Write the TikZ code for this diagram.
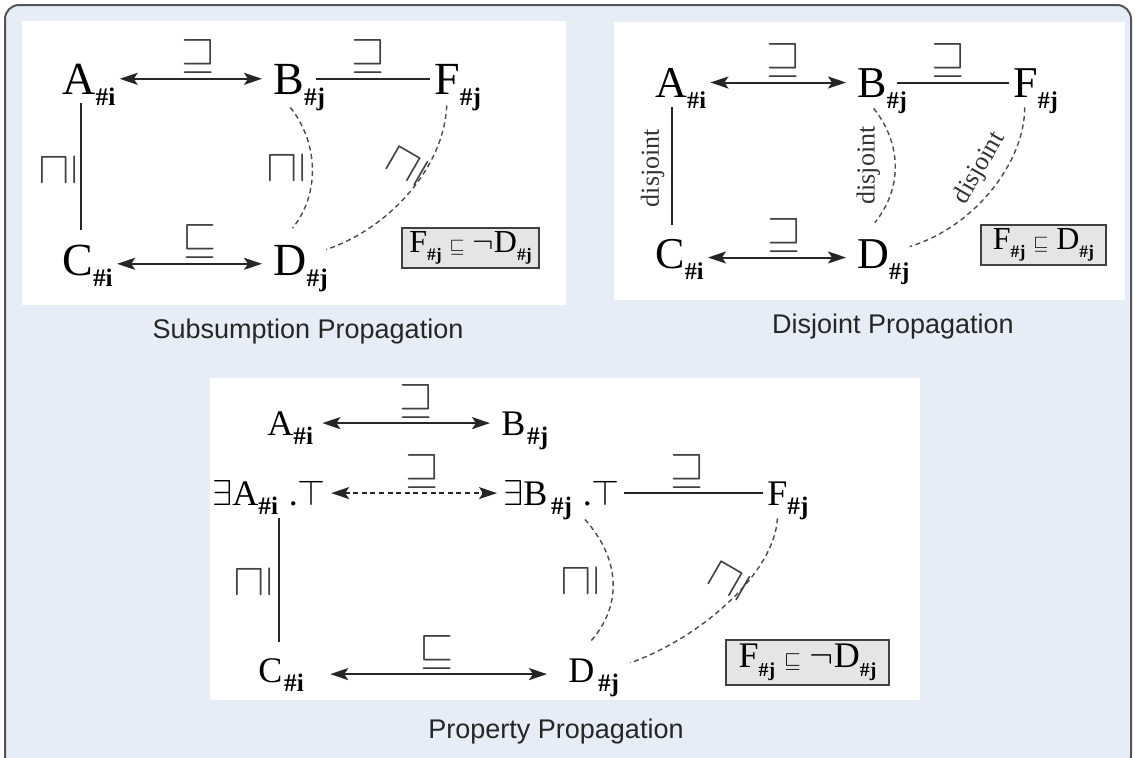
\RequirePackage{fix-cm}
\documentclass[tikz,border=0pt]{standalone}
\usepackage{fontspec}
\setmainfont{Liberation Serif}
\newfontfamily\capfont{Liberation Sans}
\usepackage{graphicx}
\usetikzlibrary{arrows.meta}
\definecolor{PanelBack}{HTML}{E6EDF7}
\definecolor{FrameGray}{HTML}{555555}
\newcommand{\cn}[3][0.55]{#2\raisebox{-0.25em}{\scalebox{#1}{\bfseries\##3}}}

\begin{document}
\begin{tikzpicture}[>={Stealth[length=9pt,width=6pt,inset=2pt]},x=0.5pt,y=-0.5pt,
  term/.style={inner sep=2pt,anchor=base west,text depth=0pt},
  termbig/.style={term,font=\fontsize{23}{23}\selectfont,text height=15.2pt},
  termmid/.style={term,font=\fontsize{22}{22}\selectfont,text height=14.5pt},
  termsmall/.style={term,font=\fontsize{18}{18}\selectfont,text height=11.9pt},
  link/.style={line width=1pt,black!85},
  biarrow/.style={link,<->,shorten >=3.5pt},
  dashcurve/.style={dash pattern=on 2.5pt off 1.8pt,line width=0.7pt,black!70},
  rel/.style={font=\fontsize{22}{22}\selectfont,text=black!75,inner sep=2pt},
  txtlab/.style={font=\fontsize{13}{13}\selectfont,text=black!80,inner sep=1pt},
  relbox/.style={draw=black!75,line width=0.9pt,fill=black!10,inner sep=2pt},
  caption/.style={font=\capfont\fontsize{13.5}{15}\selectfont,text=black!85}]
  \useasboundingbox (0,0) rectangle (1135,757);
  \draw[FrameGray,line width=1pt,fill=PanelBack,rounded corners=7pt] (5,5) rectangle (1131,770);
  \fill[white] (22,21) rectangle (566,305);
  \fill[white] (614,22) rectangle (1125,300);
  \fill[white] (210,378) rectangle (920,700);

  \node[termbig] (a1) at (58,94) {\cn{A}{i}};
  \node[termbig] (b1) at (269,94) {\cn{B}{j}};
  \node[termbig] (f1) at (430,94) {\cn{F}{j}};
  \node[termbig] (c1) at (58,275) {\cn{C}{i}};
  \node[termbig] (d1) at (269,275) {\cn{D}{j}};
  \draw[biarrow] (a1) -- (b1) node[rel,pos=.53,above] {$\sqsupseteq$};
  \draw[link] ([xshift=-7pt]b1.east) -- (f1.west) node[rel,pos=.46,above] {$\sqsupseteq$};
  \draw[link,shorten <=2.5pt,shorten >=5pt] ([xshift=-4pt]a1.south) -- ([xshift=-4pt]a1.south |- c1.north)
    node[rel,midway,xshift=-11pt,rotate=90] {$\sqsupseteq$};
  \draw[biarrow] ([yshift=-2pt]c1.east) -- ([yshift=-2pt]d1.west) node[rel,pos=.54,above] {$\sqsubseteq$};
  \draw[dashcurve] ([shift={(-4.5pt,-4.5pt)}]b1.south) .. controls +(28,35) and +(28,-35) .. ([shift={(-4pt,6pt)}]d1.north)
    node[rel,pos=.5,xshift=-13pt,rotate=90] {$\sqsupseteq$};
  \draw[dashcurve] ([shift={(-5.5pt,-3.5pt)}]f1.south) .. controls +(-3,65) and +(60,-20) .. ([shift={(-3pt,-4.7pt)}]d1.north east)
    node[rel,pos=.35,xshift=-9pt,yshift=2.5pt,rotate=60] {$\sqsupseteq$};
  \node[relbox,minimum width=68.5pt,minimum height=20pt,font=\fontsize{16}{16}\selectfont] (box1) at (470.5,248)
    {\cn{F}{j}\ \scalebox{0.6}{$\sqsubseteq$}\ $\neg$\cn{D}{j}};
  \node[caption] (cap1) at (308,332) {Subsumption Propagation};

  \node[termmid] (a2) at (651,97) {\cn{A}{i}};
  \node[termmid] (b2) at (853,97) {\cn{B}{j}};
  \node[termmid] (f2) at (1009,97) {\cn{F}{j}};
  \node[termmid] (c2) at (651,268) {\cn{C}{i}};
  \node[termmid] (d2) at (853,268) {\cn{D}{j}};
  \draw[biarrow] (a2) -- (b2) node[rel,pos=.51,above] {$\sqsupseteq$};
  \draw[link] ([xshift=-7pt]b2.east) -- (f2.west) node[rel,pos=.46,above] {$\sqsupseteq$};
  \draw[link,shorten <=3pt,shorten >=5pt] ([xshift=-4.5pt]a2.south) -- ([xshift=-4.5pt]a2.south |- c2.north)
    node[txtlab,midway,xshift=-9.5pt,rotate=90] {disjoint};
  \draw[biarrow] ([yshift=-2pt]c2.east) -- ([yshift=-2pt]d2.west) node[rel,pos=.53,above] {$\sqsupseteq$};
  \draw[dashcurve] ([shift={(-4.25pt,-3.5pt)}]b2.south) .. controls +(28,35) and +(28,-35) .. ([shift={(-4.25pt,6pt)}]d2.north)
    node[txtlab,pos=.5,xshift=-13.5pt,rotate=90] {disjoint};
  \draw[dashcurve] ([shift={(-5.5pt,-3pt)}]f2.south) .. controls +(0,55) and +(65,-20) .. ([shift={(-2pt,-6pt)}]d2.north east)
    node[txtlab,pos=.35,xshift=-14pt,yshift=-1pt,rotate=60] {disjoint};
  \node[relbox,minimum width=62.5pt,minimum height=20pt,font=\fontsize{16}{16}\selectfont] (box2) at (1043.5,245)
    {\cn{F}{j}\ \scalebox{0.6}{$\sqsubseteq$}\ \cn{D}{j}};
  \node[caption] (cap2) at (893,327) {Disjoint Propagation};

  \node[termsmall] (a3) at (263,435) {\cn[0.7]{A}{i}};
  \node[termsmall] (b3) at (497,435) {\cn[0.7]{B\kern0.05em}{j}};
  \node[termsmall] (ea3) at (208,505) {$\exists$\cn[0.7]{A}{i}\kern0.3em.$\top$};
  \node[termsmall] (eb3) at (499,505) {$\exists$\cn[0.7]{B\kern0.1em}{j}\kern0.3em.$\top$};
  \node[termsmall] (f3) at (763,505) {\cn[0.7]{F}{j}};
  \node[termsmall] (c3) at (254,682) {\cn[0.7]{C\kern0.05em}{i}};
  \node[termsmall] (d3) at (564,682) {\cn[0.7]{D\kern0.1em}{j}};
  \draw[biarrow,shorten <=2.5pt] (a3) -- (b3) node[rel,pos=.55,above] {$\sqsupseteq$};
  \draw[biarrow,line width=0.8pt,dash pattern=on 2.5pt off 1.8pt,shorten <=0.5pt,shorten >=1pt] (ea3) -- (eb3)
    node[rel,pos=.55,above] {$\sqsupseteq$};
  \draw[link] (eb3) -- (f3) node[rel,pos=.46,above] {$\sqsupseteq$};
  \draw[link,shorten <=4.5pt,shorten >=6pt] ([xshift=4.7pt]ea3.south) -- ([xshift=4.7pt]ea3.south |- c3.north)
    node[rel,midway,xshift=-12.5pt,rotate=90] {$\sqsupseteq$};
  \draw[biarrow,shorten <=11pt,shorten >=8.5pt] ([yshift=-2pt]c3.east) -- ([yshift=-2pt]d3.west)
    node[rel,midway,above] {$\sqsubseteq$};
  \draw[dashcurve] ([shift={(11.65pt,-5pt)}]eb3.south) .. controls +(34,38) and +(34,-38) .. ([shift={(-1.75pt,6pt)}]d3.north)
    node[rel,pos=.5,xshift=-16.5pt,rotate=90] {$\sqsupseteq$};
  \draw[dashcurve] ([shift={(-5.25pt,-4.5pt)}]f3.south) .. controls +(-3,55) and +(70,-25) .. ([shift={(3.5pt,-4.5pt)}]d3.north east)
    node[rel,pos=.35,xshift=-11pt,yshift=-1.5pt,rotate=60] {$\sqsupseteq$};
  \node[relbox,minimum width=81.5pt,minimum height=20.5pt,font=\fontsize{18}{18}\selectfont] (box3) at (807.5,662.5)
    {\cn{F}{j}\ \scalebox{0.6}{$\sqsubseteq$}\ $\neg$\cn{D}{j}};
  \node[caption] (cap3) at (556,732) {Property Propagation};
\end{tikzpicture}
\end{document}
